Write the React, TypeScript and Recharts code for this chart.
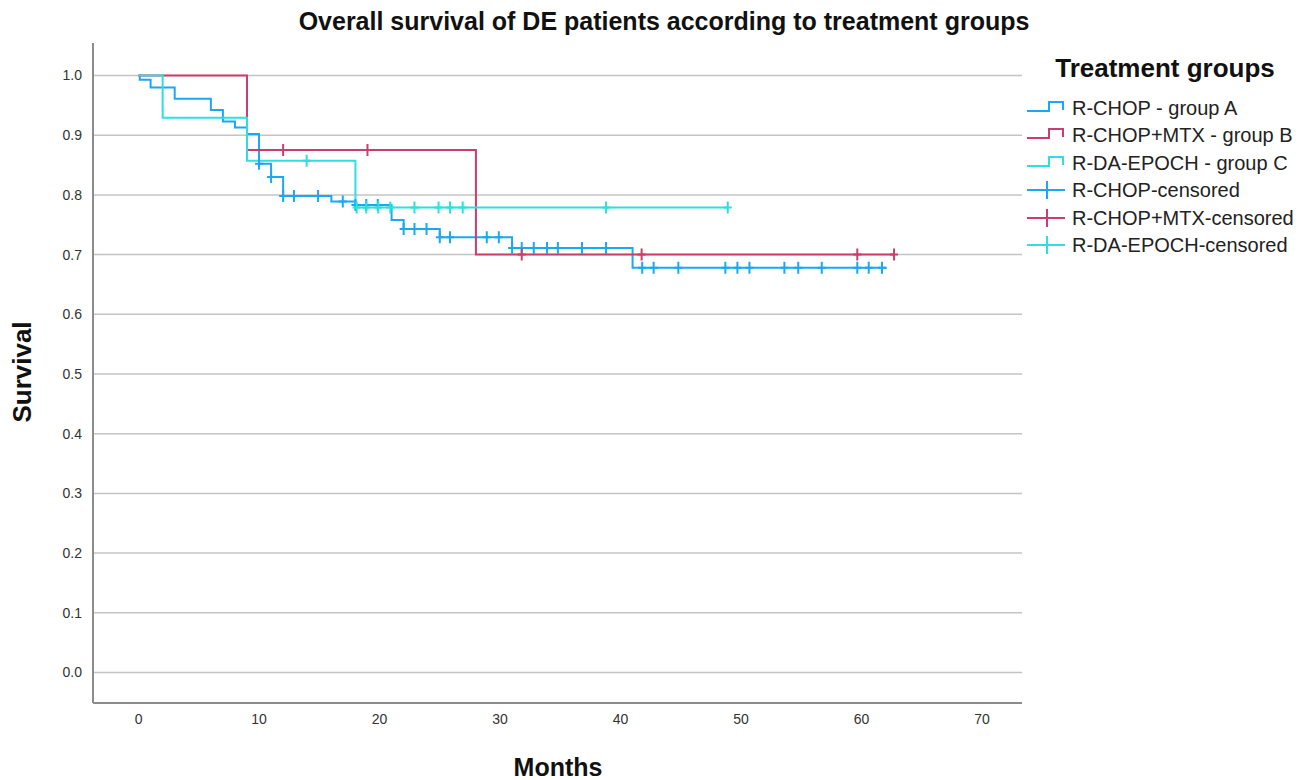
import React from 'react';
import { ComposedChart, Line, Scatter, XAxis, YAxis, CartesianGrid } from 'recharts';

// ---- Data ----
const groupATimes = [0, 0.1, 1, 3, 6, 7, 8, 9, 10, 11, 12, 16, 18, 21, 22, 25, 31, 41, 62.1];
const groupASurv = [1.0, 0.993, 0.98, 0.961, 0.942, 0.923, 0.913, 0.902, 0.852, 0.83, 0.798, 0.789, 0.783, 0.758, 0.743, 0.729, 0.711, 0.678, 0.678];
const groupACensored = [10, 11, 12, 12.9, 14.9, 16.95, 18, 18.9, 19.85, 22, 22.9, 23.9, 25, 25.85, 28.9, 29.9, 31, 31.8, 32.8, 33.9, 34.8, 36.8, 38.8, 41.8, 42.75, 44.8, 48.7, 49.7, 50.7, 53.6, 54.75, 56.7, 59.65, 60.6, 61.7];

const groupBTimes = [0, 9, 28, 62.7];
const groupBSurv = [1.0, 0.875, 0.7, 0.7];
const groupBCensored = [12, 19, 31.8, 41.75, 59.65, 62.7];

const groupCTimes = [0, 2, 9, 18, 48.9];
const groupCSurv = [1.0, 0.929, 0.857, 0.779, 0.779];
const groupCCensored = [13.95, 18.1, 18.9, 19.9, 20.9, 22.9, 24.9, 25.85, 26.9, 38.8, 48.9];

const xTicks = [0, 10, 20, 30, 40, 50, 60, 70];
const yTicks = [0, 0.1, 0.2, 0.3, 0.4, 0.5, 0.6, 0.7, 0.8, 0.9, 1.0];

const seriesNames = [
  'R-CHOP - group A',
  'R-CHOP+MTX - group B',
  'R-DA-EPOCH - group C',
  'R-CHOP-censored',
  'R-CHOP+MTX-censored',
  'R-DA-EPOCH-censored',
];

const COLOR_A = '#1aa8f4';
const COLOR_B = '#cc3d6b';
const COLOR_C = '#2fdede';

// ---- Helpers ----
const toSteps = (times: number[], surv: number[]) => times.map((t, i) => ({ t, s: surv[i] }));
const survAt = (times: number[], surv: number[], t: number) => {
  let v = surv[0];
  for (let i = 0; i < times.length; i++) {
    if (times[i] <= t + 1e-9) v = surv[i];
  }
  return v;
};
const toCensor = (cens: number[], times: number[], surv: number[]) =>
  cens.map((t) => ({ t, s: survAt(times, surv, t) }));

const stepsA = toSteps(groupATimes, groupASurv);
const stepsB = toSteps(groupBTimes, groupBSurv);
const stepsC = toSteps(groupCTimes, groupCSurv);
const censA = toCensor(groupACensored, groupATimes, groupASurv);
const censB = toCensor(groupBCensored, groupBTimes, groupBSurv);
const censC = toCensor(groupCCensored, groupCTimes, groupCSurv);

const plusShape = (color: string) => (props: any) => {
  const { cx, cy } = props;
  if (cx == null || cy == null) return <g />;
  return (
    <path
      d={`M${cx - 4},${cy}H${cx + 4}M${cx},${cy - 6}V${cy + 6}`}
      stroke={color}
      strokeWidth={2}
      fill="none"
    />
  );
};

const FONT = '"Liberation Sans", Arial, Helvetica, sans-serif';

const LegendStepIcon = ({ y, color }: { y: number; color: string }) => (
  <path
    d={`M1027,${y + 3}H1049V${y - 6}H1063V${y + 2}`}
    stroke={color}
    strokeWidth={2}
    fill="none"
  />
);
const LegendCensorIcon = ({ y, color }: { y: number; color: string }) => (
  <path d={`M1027,${y}H1065M1047,${y - 9}V${y + 9}`} stroke={color} strokeWidth={2} fill="none" />
);

export default function App() {
  const W = 1302;
  const H = 780;
  const legendY = [108, 135, 163, 190, 218, 245];
  const legendColors = [COLOR_A, COLOR_B, COLOR_C, COLOR_A, COLOR_B, COLOR_C];
  return (
    <div style={{ position: 'absolute', left: 0, top: 0, width: W, height: H, background: '#fff', fontFamily: FONT }}>
      <ComposedChart width={W} height={H} margin={{ top: 43, right: 280, bottom: 47, left: 33 }}>
        <CartesianGrid vertical={false} horizontalValues={yTicks} stroke="#c4c4c4" strokeWidth={1.5} />
        <XAxis
          type="number"
          dataKey="t"
          domain={[-3.78, 73.32]}
          ticks={xTicks}
          allowDataOverflow
          tickLine={false}
          axisLine={{ stroke: '#8c8c8c', strokeWidth: 2 }}
          height={30}
          tickMargin={5}
          tick={{ fontSize: 14, fill: '#333', fontFamily: FONT }}
        />
        <YAxis
          type="number"
          dataKey="s"
          domain={[-0.0511, 1.0544]}
          ticks={yTicks}
          allowDataOverflow
          tickFormatter={(v: number) => v.toFixed(1)}
          tickLine={false}
          axisLine={{ stroke: '#8c8c8c', strokeWidth: 2 }}
          width={60}
          tickMargin={5}
          tick={{ fontSize: 14, fill: '#333', fontFamily: FONT }}
        />
        <Line data={stepsA} dataKey="s" name={seriesNames[0]} type="stepAfter" stroke={COLOR_A} strokeWidth={2} dot={false} activeDot={false} isAnimationActive={false} />
        <Line data={stepsB} dataKey="s" name={seriesNames[1]} type="stepAfter" stroke={COLOR_B} strokeWidth={2} dot={false} activeDot={false} isAnimationActive={false} />
        <Line data={stepsC} dataKey="s" name={seriesNames[2]} type="stepAfter" stroke={COLOR_C} strokeWidth={2} dot={false} activeDot={false} isAnimationActive={false} />
        <Scatter data={censA} dataKey="s" name={seriesNames[3]} fill={COLOR_A} shape={plusShape(COLOR_A)} isAnimationActive={false} />
        <Scatter data={censB} dataKey="s" name={seriesNames[4]} fill={COLOR_B} shape={plusShape(COLOR_B)} isAnimationActive={false} />
        <Scatter data={censC} dataKey="s" name={seriesNames[5]} fill={COLOR_C} shape={plusShape(COLOR_C)} isAnimationActive={false} />
      </ComposedChart>
      <svg
        width={W}
        height={H}
        style={{ position: 'absolute', left: 0, top: 0, pointerEvents: 'none' }}
      >
        <text x={664} y={30} textAnchor="middle" fontSize={25} fontWeight="bold" fill="#111" fontFamily={FONT}>
          Overall survival of DE patients according to treatment groups
        </text>
        <text
          x={31}
          y={372}
          transform="rotate(-90 31 372)"
          textAnchor="middle"
          fontSize={26}
          fontWeight="bold"
          fill="#111"
          fontFamily={FONT}
        >
          Survival
        </text>
        <text x={558} y={776} textAnchor="middle" fontSize={25} fontWeight="bold" fill="#111" fontFamily={FONT}>
          Months
        </text>
        <text x={1165} y={77} textAnchor="middle" fontSize={26} fontWeight="bold" fill="#111" fontFamily={FONT}>
          Treatment groups
        </text>
        {seriesNames.map((name, i) => (
          <g key={name}>
            {i < 3 ? (
              <LegendStepIcon y={legendY[i]} color={legendColors[i]} />
            ) : (
              <LegendCensorIcon y={legendY[i]} color={legendColors[i]} />
            )}
            <text x={1072} y={legendY[i] + 7} fontSize={20} fill="#222" fontFamily={FONT}>
              {name}
            </text>
          </g>
        ))}
      </svg>
    </div>
  );
}
